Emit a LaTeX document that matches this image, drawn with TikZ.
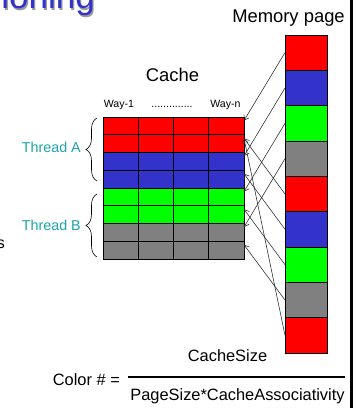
\documentclass[tikz,border=0pt]{standalone}
\usepackage{fontspec}
\setmainfont{Liberation Sans}
\usepackage{tikz}
\usetikzlibrary{calc}
\usetikzlibrary{arrows.meta}
\usetikzlibrary{decorations.pathreplacing}
\definecolor{cred}{RGB}{255,0,0}
\definecolor{cblue}{RGB}{51,51,204}
\definecolor{cgreen}{RGB}{0,255,0}
\definecolor{cgray}{RGB}{128,128,128}
\definecolor{cteal}{RGB}{26,163,170}
\newcommand{\fs}[1]{\fontsize{#1}{#1}\selectfont}
\tikzset{%
  every row/.style={
    draw,
    line width=0.9pt,
    inner sep=0pt,
    outer sep=0pt,
    minimum width=141pt,
    minimum height=17.75pt
  },
  every block/.style={
    draw,
    line width=0.9pt,
    inner sep=0pt,
    outer sep=0pt,
    minimum width=42pt,
    minimum height=35.33pt
  },
  txt/.style={
    inner sep=0pt
  },
  map/.style={
    ->,
    line width=0.55pt,
    draw=black!85
  },
  thread brace/.style={
    decorate,
    decoration={brace, amplitude=11pt},
    line width=0.6pt
  },
}

\begin{document}
\begin{tikzpicture}[x=1pt, y=1pt, >={Straight Barb[length=4.5pt,width=6pt]}]

\useasboundingbox (0,0) rectangle (356,408);
\clip (0,0) rectangle (356,408);

% title (cut off)
\node [txt, anchor=base east, text=black!40, font=\fs{35}] at (96.2,397.8) {ioning};
\node [txt, anchor=base east, text=cblue, font=\fs{35}] (title) at (95,399) {ioning};
\node [txt, anchor=base east, font=\fs{16}] (cut) at (5,159) {s};

% cache
\foreach \c [count=\y] in {cred,cred,cblue,cblue,cgreen,cgreen,cgray,cgray}
  \node [every row/.try, fill=\c] (row-\y) at (173.5,291-\y*17.75+8.875) {};

\foreach \i in {1,2,3}
  \draw [line width=0.9pt] ($(row-1.north west)!\i/4!(row-1.north east)$)
    -- ($(row-8.south west)!\i/4!(row-8.south east)$);

% memory page
\foreach \c [count=\y] in {cred,cblue,cgreen,cgray,cred,cblue,cgreen,cgray,cred}
  \node [every block/.try, fill=\c] (mem-\y) at (306,373-\y*35.33+17.665) {};

\foreach \i/\j in {1/1,2/3,3/5,4/7,5/2,6/4,7/6,8/8,9/2}
  \draw [map] (mem-\i.west) -- ($(row-\j.north east)!0.2!(row-\j.south east)$);

% threads
\draw [thread brace] (97,227) -- (97,290);
\draw [thread brace] (97,151) -- (97,214);
\node [txt, anchor=base east, text=cteal, font=\fs{14.3}] (thread-a) at (81,255) {Thread A};
\node [txt, anchor=base east, text=cteal, font=\fs{14.3}] (thread-b) at (81,177.3) {Thread B};

% labels
\node [txt, anchor=base, font=\fs{18.4}] (cache) at (172.5,326.5) {Cache};
\node [txt, anchor=base, font=\fs{18.4}] (memory) at (288.5,385) {Memory page};
\node [txt, anchor=base, font=\fs{10.6}] (way-1) at (119,300) {Way-1};
\node [txt, anchor=base, font=\fs{10.6}] (way-dots) at (172,300) {..............};
\node [txt, anchor=base, font=\fs{10.6}] (way-n) at (225.5,300) {Way-n};

% formula
\node [txt, anchor=base west, font=\fs{16.4}] (color) at (52.7,23) {Color \# =};
\node [txt, anchor=base, font=\fs{16.4}] (num) at (227.5,46) {CacheSize};
\node [txt, anchor=base, font=\fs{16.4}] (den) at (237.5,7) {PageSize*CacheAssociativity};
\draw [line width=1.3pt] (128,31) -- (345,31);

\draw [line width=2.3pt] (351.5,0) -- (351.5,408);

\end{tikzpicture}
\end{document}
